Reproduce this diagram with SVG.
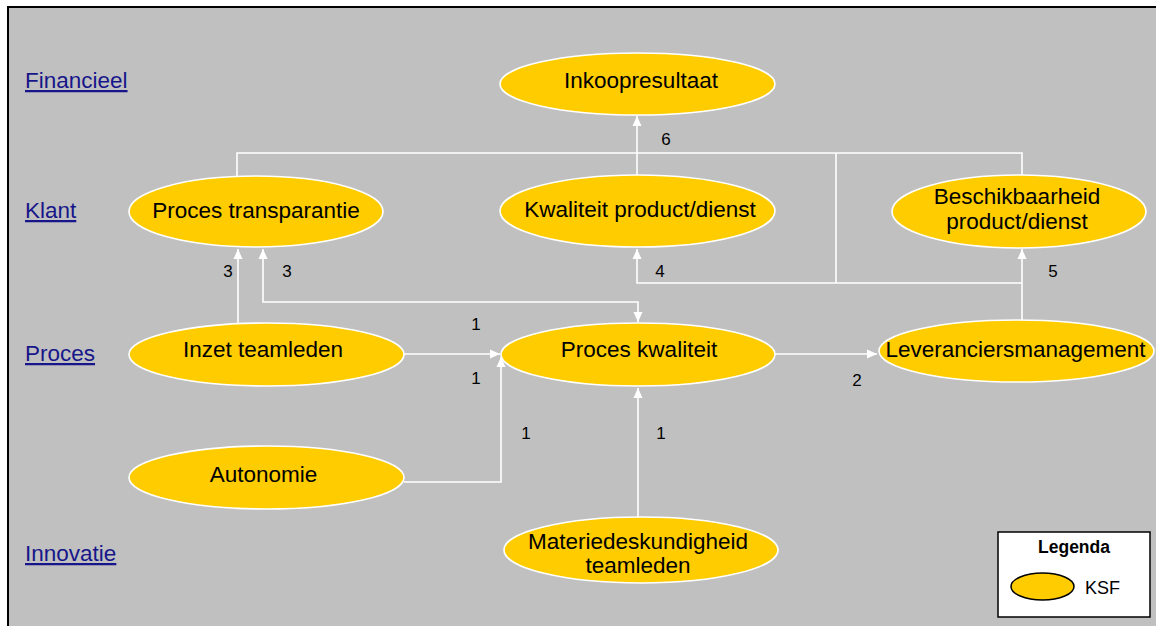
<svg xmlns="http://www.w3.org/2000/svg" width="1156" height="626" viewBox="0 0 1156 626">
  <style>
    .ksf { fill: #FFCC00; stroke: #FFFFFF; stroke-width: 1.6; }
    .lbl { font-family: "Liberation Sans", Arial, sans-serif; font-size: 22.5px; fill: #000000; text-anchor: middle; }
    .lane { font-family: "Liberation Sans", Arial, sans-serif; font-size: 22.5px; fill: #16168A; text-decoration: underline; }
    .num { font-family: "Liberation Sans", Arial, sans-serif; font-size: 17px; fill: #000000; text-anchor: middle; }
    .wire { fill: none; stroke: #FFFFFF; stroke-width: 1.6; }
  </style>
  <defs>
    <marker id="arrow" viewBox="0 0 10 10" refX="10" refY="5" markerWidth="10" markerHeight="10" markerUnits="userSpaceOnUse" orient="auto-start-reverse">
      <path d="M0,0.5 L10,5 L0,9.5 z" fill="#FFFFFF"/>
    </marker>
  </defs>

  <!-- canvas -->
  <rect x="0" y="0" width="1156" height="626" fill="#FFFFFF"/>
  <rect x="8" y="7" width="1160" height="630" fill="#C0C0C0" stroke="#000000" stroke-width="2"/>

  <!-- perspective lanes -->
  <g id="lanes">
    <text class="lane" x="25" y="88">Financieel</text>
    <text class="lane" x="25" y="218">Klant</text>
    <text class="lane" x="25" y="361">Proces</text>
    <text class="lane" x="25" y="561">Innovatie</text>
  </g>

  <!-- connectors -->
  <g id="connectors">
    <path class="wire" d="M637,175 L637,116" marker-end="url(#arrow)"/>
    <path class="wire" d="M237,176 L237,153 L1022,153 L1022,175"/>
    <path class="wire" d="M836,153 L836,283"/>
    <path class="wire" d="M1022,320 L1022,249" marker-end="url(#arrow)"/>
    <path class="wire" d="M1022,283 L637,283 L637,249" marker-end="url(#arrow)"/>
    <path class="wire" d="M238,323 L238,249" marker-end="url(#arrow)"/>
    <path class="wire" d="M263,249 L263,302 L638,302 L638,322" marker-start="url(#arrow)" marker-end="url(#arrow)"/>
    <path class="wire" d="M404,354 L500,354" marker-end="url(#arrow)"/>
    <path class="wire" d="M404,482 L501,482 L501,357" marker-end="url(#arrow)"/>
    <path class="wire" d="M638,517 L638,388" marker-end="url(#arrow)"/>
    <path class="wire" d="M775,354 L877,354" marker-end="url(#arrow)"/>

    <text class="num" x="666" y="145">6</text>
    <text class="num" x="228" y="277">3</text>
    <text class="num" x="287" y="277">3</text>
    <text class="num" x="660" y="277">4</text>
    <text class="num" x="1053" y="277">5</text>
    <text class="num" x="476" y="330">1</text>
    <text class="num" x="476" y="384">1</text>
    <text class="num" x="526" y="439">1</text>
    <text class="num" x="661" y="439">1</text>
    <text class="num" x="857" y="386">2</text>
  </g>

  <!-- nodes -->
  <g id="inkoopresultaat">
    <ellipse class="ksf" cx="637.5" cy="84" rx="137.5" ry="31"/>
    <text class="lbl" x="641" y="88">Inkoopresultaat</text>
  </g>
  <g id="proces-transparantie">
    <ellipse class="ksf" cx="256" cy="211.5" rx="127" ry="35.5"/>
    <text class="lbl" x="256" y="218">Proces transparantie</text>
  </g>
  <g id="kwaliteit-product">
    <ellipse class="ksf" cx="637.5" cy="211" rx="137.5" ry="36"/>
    <text class="lbl" x="640" y="217">Kwaliteit product/dienst</text>
  </g>
  <g id="beschikbaarheid">
    <ellipse class="ksf" cx="1019" cy="211.5" rx="127" ry="36.5"/>
    <text class="lbl" x="1017" y="204">Beschikbaarheid</text>
    <text class="lbl" x="1017" y="229">product/dienst</text>
  </g>
  <g id="inzet-teamleden">
    <ellipse class="ksf" cx="266.5" cy="354.5" rx="137.5" ry="31.5"/>
    <text class="lbl" x="263" y="357">Inzet teamleden</text>
  </g>
  <g id="proces-kwaliteit">
    <ellipse class="ksf" cx="638" cy="354.5" rx="137" ry="31.5"/>
    <text class="lbl" x="639" y="357">Proces kwaliteit</text>
  </g>
  <g id="leveranciersmanagement">
    <ellipse class="ksf" cx="1016.5" cy="351" rx="137.5" ry="31"/>
    <text class="lbl" x="1015.5" y="357">Leveranciersmanagement</text>
  </g>
  <g id="autonomie">
    <ellipse class="ksf" cx="266.5" cy="477.5" rx="137.5" ry="31.5"/>
    <text class="lbl" x="263.5" y="482">Autonomie</text>
  </g>
  <g id="materiedeskundigheid">
    <ellipse class="ksf" cx="641" cy="550" rx="137" ry="33"/>
    <text class="lbl" x="638" y="549">Materiedeskundigheid</text>
    <text class="lbl" x="638" y="573">teamleden</text>
  </g>

  <!-- legend -->
  <g id="legenda">
    <rect x="998" y="532" width="152" height="85" fill="#FFFFFF" stroke="#000000" stroke-width="1.5"/>
    <text x="1074" y="553" font-family="Liberation Sans, Arial, sans-serif" font-size="17.5" font-weight="bold" text-anchor="middle">Legenda</text>
    <ellipse cx="1042.5" cy="586.5" rx="31.5" ry="13.5" fill="#FFCC00" stroke="#000000" stroke-width="1.5"/>
    <text x="1085" y="594" font-family="Liberation Sans, Arial, sans-serif" font-size="18">KSF</text>
  </g>
</svg>
